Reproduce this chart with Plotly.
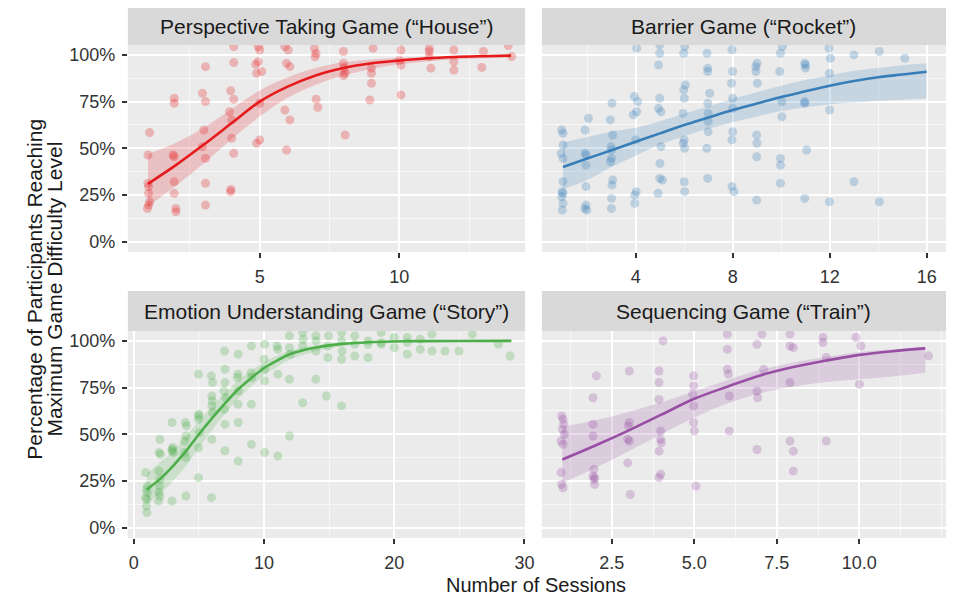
import plotly.graph_objects as go

# ---------------- data ----------------
titles = ["Perspective Taking Game (\u201cHouse\u201d)", "Barrier Game (\u201cRocket\u201d)",
          "Emotion Understanding Game (\u201cStory\u201d)", "Sequencing Game (\u201cTrain\u201d)"]
colors = ["#E41A1C", "#377EB8", "#4DAF4A", "#984EA3"]
rgb = ["228,26,28", "55,126,184", "77,175,74", "152,78,163"]

# House
house_x = [1.06, 1.0, 1.0, 1.02, 1.06, 0.98, 1.02, 1.02,
           1.94, 1.94, 1.9, 1.94, 1.94, 1.94, 2.0, 2.0,
           3.06, 2.95, 3.06, 3.0, 2.95, 3.06, 3.06, 3.06,
           4.07, 4.07, 3.96, 4.07, 3.92, 4.0, 4.0, 4.07, 3.96, 3.97,
           4.95, 5.0, 4.95, 4.89, 5.07, 5.0, 5.0, 4.89, 4.86,
           5.9, 6.02, 5.96, 6.08, 5.9, 6.08, 5.96,
           6.96, 7.02, 7.02, 7.08, 6.98,
           8.0, 8.0, 8.06, 8.06, 8.0, 8.02,
           9.06, 9.0, 9.0, 9.0, 8.94,
           10.06, 10.06, 10.06, 10.0,
           11.07, 11.07, 11.07, 11.13,
           11.95, 11.95, 11.95,
           13.01, 12.95,
           14.02, 13.9]
house_y = [58.4, 46.4, 31.3, 29.5, 21.4, 17.8, 19.6, 25.9,
           76.8, 74.1, 46.4, 45.5, 32.1, 25.9, 17.8, 16.0,
           93.7, 79.5, 75.0, 59.8, 50.9, 44.6, 31.3, 19.6,
           104.4, 95.9, 80.8, 76.3, 69.6, 65.2, 55.4, 47.3, 26.8, 28.0,
           104.4, 102.6, 96.4, 90.2, 91.1, 74.1, 54.5, 52.7, 95.0,
           104.4, 102.6, 95.5, 93.7, 70.5, 65.2, 49.1,
           103.5, 100.8, 76.3, 71.9, 99.0,
           101.8, 95.5, 90.2, 57.1, 89.0, 93.0,
           103.5, 92.9, 90.2, 84.8, 75.9,
           102.6, 94.6, 78.6, 97.0,
           103.5, 101.8, 99.1, 92.9,
           102.6, 96.4, 91.9,
           101.8, 93.3,
           99.1, 105.0]
house_fit_x = [1, 2, 3, 4, 5, 6, 7, 8, 9, 10, 11, 12, 13, 14]
house_fit = [31, 41, 52, 63.5, 75, 83, 89, 93, 95.5, 97, 98.2, 98.9, 99.3, 99.6]
house_lo = [19, 30, 42, 55, 67, 77, 84, 89, 92.5, 95, 96.5, 97.5, 98.2, 98.7]
house_hi = [47, 53, 61, 71, 81, 88, 93, 96, 97.5, 98.5, 99, 99.5, 99.7, 99.8]

# Rocket
rocket_x = [0.95, 1.0, 1.0, 0.92, 1.0, 1.0, 0.96, 1.0, 0.95, 1.0, 0.97,
            2.05, 1.91, 1.91, 1.95, 1.95, 1.95, 1.95, 1.9, 1.98,
            3.02, 2.95, 3.05, 2.98, 3.0, 3.0, 2.96, 3.05, 3.02, 3.0, 3.0,
            4.04, 3.94, 4.08, 4.04, 3.9, 4.0, 4.02, 3.96, 3.96,
            4.99, 4.99, 4.94, 4.99, 4.94, 5.04, 5.04, 5.0, 4.99, 5.1, 4.92,
            6.02, 5.98, 6.05, 5.98, 6.0, 5.95, 6.0, 5.96, 6.02, 6.0, 6.02,
            6.94, 6.97, 6.97, 7.05, 6.97, 6.99, 6.99, 6.99, 6.93, 6.97,
            7.97, 8.0, 7.95, 8.0, 8.0, 8.0, 7.97, 7.97, 8.05,
            9.0, 8.96, 8.96, 9.02, 8.99, 9.0, 8.99, 8.99,
            10.05, 9.97, 9.94, 10.03, 10.03, 9.97, 9.97, 9.97,
            10.97, 11.0, 11.0, 10.97, 10.97, 11.05, 10.97,
            11.97, 12.03, 11.99, 12.0, 11.99,
            13.0, 13.0, 14.05, 14.05, 15.1]
rocket_y = [59.8, 58.0, 51.8, 47.3, 44.6, 32.1, 26.8, 25.9, 24.1, 20.5, 16.9,
            66.1, 59.8, 47.3, 46.4, 41.0, 29.5, 19.6, 17.8, 16.9,
            74.1, 65.2, 57.1, 50.9, 49.1, 44.6, 42.8, 33.0, 30.3, 23.2, 17.8,
            103.6, 77.7, 75.0, 69.6, 67.9, 54.5, 26.8, 25.0, 20.5,
            105.4, 100.9, 94.6, 76.8, 71.4, 69.6, 50.9, 41.9, 33.9, 33.0, 25.9,
            104.5, 100.9, 83.9, 81.3, 76.8, 68.7, 54.5, 52.7, 50.0, 32.1, 26.8,
            100.9, 92.9, 91.1, 79.5, 74.1, 68.7, 64.3, 58.9, 50.0, 33.9,
            102.7, 91.1, 84.8, 76.8, 71.4, 58.9, 54.5, 29.5, 26.8,
            95.5, 93.7, 91.1, 84.8, 57.1, 52.7, 45.5, 22.3,
            104.5, 100.9, 91.1, 75.0, 66.9, 44.6, 41.0, 31.3,
            95.5, 94.6, 92.9, 75.0, 74.1, 49.1, 23.2,
            103.6, 98.2, 90.2, 70.5, 21.4,
            100.0, 32.1, 101.8, 21.4, 98.2]
rocket_fit_x = [1, 2, 3, 4, 5, 6, 7, 8, 9, 10, 11, 12, 13, 14, 15, 16]
rocket_fit = [40, 44.5, 49, 53.5, 58, 62.5, 66.5, 70.5, 74, 77.5, 80.5, 83.5, 86, 88, 89.5, 91]
rocket_lo = [28, 33, 40, 46, 52, 56.5, 60.5, 64, 67, 70, 72, 73.5, 74.5, 75.5, 76, 76.5]
rocket_hi = [53, 56, 59, 61, 64.5, 68.5, 72.5, 76.5, 80, 83.5, 86.5, 89, 91.5, 93, 94.5, 95.5]

# Story
story_x = [0.9, 1.04, 0.96, 1.04, 0.9, 1.0, 0.96, 1.0,
           2.0, 1.93, 2.05, 1.93, 2.0, 1.96, 1.93, 2.0, 1.9,
           2.94, 3.0, 2.94, 2.94, 3.04, 2.94,
           3.96, 4.05, 4.0, 3.9, 3.9, 4.0, 4.0,
           4.97, 5.0, 4.97, 4.97, 5.04, 4.97, 4.97,
           5.96, 6.05, 5.99, 6.02, 5.99, 6.05, 5.99, 5.96,
           6.97, 7.0, 7.0, 6.92, 7.05, 6.97, 7.0, 7.0,
           8.02, 8.0, 7.95, 8.02, 8.0, 8.02, 8.02,
           9.03, 9.0, 9.05, 9.03, 9.03,
           10.05, 10.0, 10.02, 10.05, 10.05,
           11.0, 11.06, 11.06, 11.06,
           11.95, 11.95, 12.0, 11.95, 11.95,
           12.97, 13.0, 12.97, 12.97,
           13.98, 14.0, 13.98, 13.98,
           14.95, 14.9, 14.9, 14.8,
           15.96, 15.96, 16.0, 15.96, 15.95,
           16.97, 16.97, 16.97,
           17.99, 17.99, 17.99,
           19.0, 19.0, 19.0,
           20.0, 20.0,
           21.0, 21.0, 21.0,
           22.0, 22.0,
           22.9, 22.9,
           23.9, 24.97, 26.0, 28.0, 28.9]
story_y = [29.5, 22.3, 20.5, 18.8, 16.1, 15.2, 11.6, 8.1,
           47.3, 40.2, 39.3, 30.3, 25.9, 22.3, 18.8, 17.0, 14.3,
           56.3, 43.0, 42.0, 41.2, 40.2, 14.3,
           56.3, 54.5, 49.1, 46.4, 40.2, 37.5, 17.0,
           82.2, 60.7, 59.8, 58.0, 50.9, 42.8, 26.8,
           81.3, 77.7, 70.5, 67.9, 65.2, 61.6, 47.3, 16.1,
           94.6, 84.8, 77.7, 73.2, 69.6, 63.4, 55.4, 41.2,
           92.9, 82.2, 80.4, 73.2, 66.1, 56.3, 35.7,
           97.3, 83.0, 80.4, 66.1, 44.6,
           98.2, 90.2, 84.8, 78.6, 40.2,
           97.3, 95.5, 82.2, 38.4,
           102.7, 96.4, 92.9, 79.5, 49.1,
           104.5, 100.9, 97.3, 66.9,
           102.7, 100.0, 94.6, 79.5,
           102.7, 97.3, 91.1, 70.5,
           104.5, 100.0, 94.6, 90.2, 65.2,
           102.7, 98.2, 91.9,
           100.0, 98.2, 91.1,
           104.5, 99.1, 98.2,
           101.8, 96.4,
           101.8, 99.1, 92.9,
           100.9, 95.5,
           103.6, 94.6,
           94.6, 94.6, 103.6, 98.2, 91.9]
story_fit_x = [1, 2, 3, 4, 5, 6, 7, 8, 9, 10, 11, 12, 13, 14, 15, 16, 18, 20, 22, 25, 29]
story_fit = [20.5, 26, 33, 41, 50, 58.5, 66.5, 74, 80, 85.5, 89.5, 93, 95, 96.5, 97.6, 98.4, 99.3, 99.7, 99.9, 99.95, 100]
story_lo = [13, 18, 25, 33, 43, 52, 61, 69, 75.5, 81.5, 86, 90, 92.5, 94.5, 96, 97.2, 98.6, 99.3, 99.7, 99.9, 99.97]
story_hi = [29, 35, 41, 49, 57, 65, 72, 79, 84, 88.5, 92, 95, 96.5, 97.7, 98.5, 99, 99.6, 99.9, 99.97, 100, 100]

# Train
train_x = [0.98, 1.02, 1.04, 1.0, 1.06, 0.96, 1.02, 0.96, 0.98, 1.02,
           2.03, 1.93, 1.93, 1.93, 1.96, 1.93, 1.98, 1.96, 1.98,
           3.03, 3.03, 3.0, 2.98, 3.03, 2.98, 3.06,
           4.05, 3.93, 3.93, 3.93, 3.98, 3.98, 4.0, 3.93, 3.98, 3.93,
           4.98, 4.98, 4.95, 4.98, 4.98, 5.0, 5.05,
           6.0, 6.0, 6.0, 6.03, 6.06, 6.06,
           7.05, 6.9, 7.1, 6.9, 6.92, 6.9,
           7.9, 7.9, 8.0, 7.9, 7.9, 8.0, 8.0,
           8.9, 8.9, 9.0, 9.0,
           9.9, 10.05, 10.0,
           12.1]
train_y = [59.8, 58.0, 55.4, 52.7, 50.0, 46.4, 44.6, 29.5, 23.2, 21.4,
           81.3, 69.6, 55.4, 49.1, 31.3, 27.7, 26.8, 25.9, 23.2,
           83.9, 56.3, 54.5, 47.3, 46.4, 34.7, 17.8,
           100.0, 83.9, 77.7, 68.7, 51.8, 47.3, 45.5, 41.0, 28.6, 26.8,
           81.3, 75.9, 71.4, 65.2, 56.3, 51.8, 22.3,
           103.6, 95.5, 84.8, 82.2, 70.5, 51.8,
           103.6, 98.2, 84.8, 73.2, 69.6, 41.9,
           103.6, 97.3, 96.4, 77.7, 46.4, 41.0, 30.3,
           101.8, 99.1, 91.1, 46.4,
           101.8, 97.3, 76.8,
           92.0]
train_fit_x = [1, 2, 3, 4, 5, 6, 7, 8, 9, 10, 11, 12]
train_fit = [36.5, 44, 52, 60.5, 69, 75.5, 81.5, 86, 89.5, 92.5, 94.5, 96]
train_lo = [24, 32, 41, 50, 59, 66.5, 72, 75.5, 78, 79.5, 81, 83]
train_hi = [54, 57.5, 62, 67, 73, 79, 84.5, 88.5, 91.5, 94, 95.5, 97]

# axis ticks per panel
x_ranges = [[0.28, 14.5], [0.13, 16.8], [-0.46, 30.05], [0.38, 12.63]]
x_tickvals = [[5, 10], [4, 8, 12, 16], [0, 10, 20, 30], [2.5, 5.0, 7.5, 10.0]]
x_ticktext = [["5", "10"], ["4", "8", "12", "16"], ["0", "10", "20", "30"],
              ["2.5", "5.0", "7.5", "10.0"]]
x_minor = [2.5, 2, 5, 1.25]
y_ticks = [0, 25, 50, 75, 100]
y_ticktext = ["0%", "25%", "50%", "75%", "100%"]
y_minor = [12.5, 37.5, 62.5, 87.5]

panels = [
    (house_x, house_y, house_fit_x, house_fit, house_lo, house_hi),
    (rocket_x, rocket_y, rocket_fit_x, rocket_fit, rocket_lo, rocket_hi),
    (story_x, story_y, story_fit_x, story_fit, story_lo, story_hi),
    (train_x, train_y, train_fit_x, train_fit, train_lo, train_hi),
]

# ---------------- figure ----------------
# the page body has an 8px margin, so the figure is drawn 8px in from the top-left
OFF = 8
W, H = 952, 591
FONT = "Liberation Sans, Arial, sans-serif"


def fx_(p):
    return (p - OFF) / W


def fy_(p):
    return 1 - (p - OFF) / H


col_px = [(129, 530), (547, 955)]
row_px = [(45, 252), (331, 538)]
strip_px = [(8, 45), (291, 331)]

fig = go.Figure()
layout = dict(width=W, height=H, margin=dict(l=0, r=0, t=0, b=0),
              paper_bgcolor="white", plot_bgcolor="#EBEBEB",
              showlegend=False, font=dict(family=FONT, color="#333333"))

shapes = []
annotations = []

for i, (px, py, fx, fy, flo, fhi) in enumerate(panels):
    r, c = divmod(i, 2)
    xa = "x" if i == 0 else f"x{i+1}"
    ya = "y" if i == 0 else f"y{i+1}"
    col = colors[i]
    fig.add_trace(go.Scatter(x=px, y=py, mode="markers", xaxis=xa, yaxis=ya,
                             marker=dict(size=9, color=f"rgba({rgb[i]},0.27)", line=dict(width=0)),
                             hoverinfo="skip"))
    fig.add_trace(go.Scatter(x=fx, y=flo, mode="lines", xaxis=xa, yaxis=ya,
                             line=dict(width=0, shape="spline", color=col), hoverinfo="skip"))
    fig.add_trace(go.Scatter(x=fx, y=fhi, mode="lines", xaxis=xa, yaxis=ya, fill="tonexty",
                             fillcolor=f"rgba({rgb[i]},0.2)",
                             line=dict(width=0, shape="spline", color=col), hoverinfo="skip"))
    fig.add_trace(go.Scatter(x=fx, y=fy, mode="lines", xaxis=xa, yaxis=ya,
                             line=dict(width=2.6, shape="spline", color=col), hoverinfo="skip"))

    x0, x1 = col_px[c]
    y0, y1 = row_px[r]
    xkey = "xaxis" if i == 0 else f"xaxis{i+1}"
    ykey = "yaxis" if i == 0 else f"yaxis{i+1}"
    layout[xkey] = dict(domain=[fx_(x0), fx_(x1)], anchor=ya, range=x_ranges[i],
                        tickmode="array", tickvals=x_tickvals[i], ticktext=x_ticktext[i],
                        showgrid=True, gridcolor="white", gridwidth=1.6, zeroline=False,
                        ticks="outside", ticklen=5, tickwidth=1.5, tickcolor="#333333",
                        ticklabelstandoff=3,
                        tickfont=dict(size=18, color="#333333", family=FONT),
                        minor=dict(tickmode="linear", tick0=0, dtick=x_minor[i], showgrid=True,
                                   gridcolor="#F7F7F7", gridwidth=0.8, ticks=""),
                        showline=False, fixedrange=True)
    layout[ykey] = dict(domain=[fy_(y1), fy_(y0)], anchor=xa, range=[-5.5, 105.3],
                        tickmode="array", tickvals=y_ticks, ticktext=y_ticktext,
                        showgrid=True, gridcolor="white", gridwidth=1.6, zeroline=False,
                        ticks="outside" if c == 0 else "", ticklen=5, tickwidth=1.5,
                        tickcolor="#333333", showticklabels=(c == 0),
                        ticklabelstandoff=3,
                        tickfont=dict(size=18, color="#333333", family=FONT),
                        minor=dict(tickmode="array", tickvals=y_minor,
                                   showgrid=True, gridcolor="#F7F7F7", gridwidth=0.8, ticks=""),
                        showline=False, fixedrange=True)

    sy0, sy1 = strip_px[r]
    shapes.append(dict(type="rect", xref="paper", yref="paper",
                       x0=fx_(x0), x1=fx_(x1), y0=fy_(sy1), y1=fy_(sy0),
                       fillcolor="#D9D9D9", line=dict(width=0), layer="below"))
    annotations.append(dict(text=titles[i], xref="paper", yref="paper",
                            x=fx_((x0 + x1) / 2), y=fy_((sy0 + sy1) / 2),
                            xanchor="center", yanchor="middle", showarrow=False,
                            font=dict(size=21, color="#1A1A1A", family=FONT)))

annotations.append(dict(text="Number of Sessions", xref="paper", yref="paper",
                        x=fx_(541), y=fy_(585), xanchor="center", yanchor="middle",
                        showarrow=False, font=dict(size=20, color="#1A1A1A", family=FONT)))
annotations.append(dict(text="Percentage of Participants Reaching",
                        xref="paper", yref="paper", x=fx_(34), y=fy_(289),
                        xanchor="center", yanchor="middle", textangle=-90, showarrow=False,
                        font=dict(size=21, color="#1A1A1A", family=FONT)))
annotations.append(dict(text="Maximum Game Difficulty Level",
                        xref="paper", yref="paper", x=fx_(54), y=fy_(289),
                        xanchor="center", yanchor="middle", textangle=-90, showarrow=False,
                        font=dict(size=21, color="#1A1A1A", family=FONT)))

layout["shapes"] = shapes
layout["annotations"] = annotations
fig.update_layout(**layout)
fig.write_html("out.html")
